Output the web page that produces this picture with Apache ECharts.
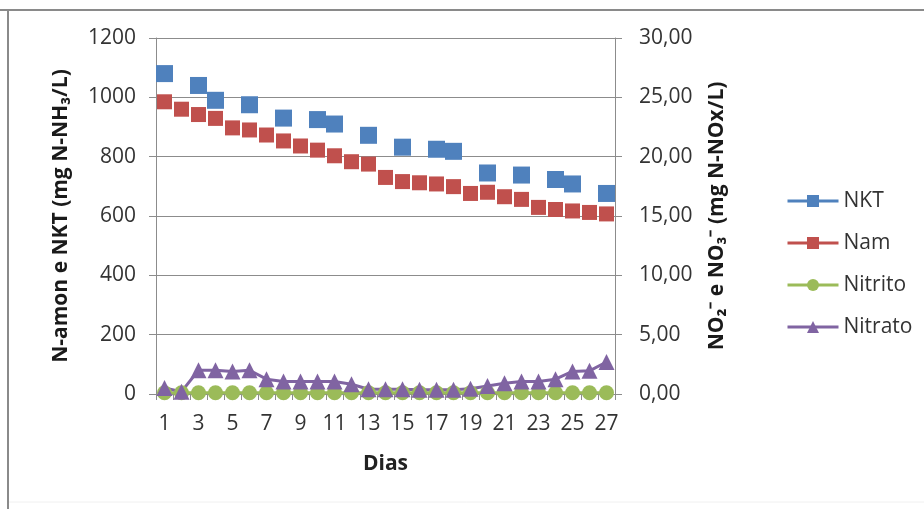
<!DOCTYPE html>
<html>
<head>
<meta charset="utf-8">
<script src="https://cdn.jsdelivr.net/npm/echarts@6/dist/echarts.min.js"></script>
<style>html,body{margin:0;padding:0;background:#fff}#c{width:924px;height:509px}</style>
</head>
<body>
<div id="c"></div>
<script>
var days = ['1','2','3','4','5','6','7','8','9','10','11','12','13','14','15','16','17','18','19','20','21','22','23','24','25','26','27'];
var leftTicks = [0,200,400,600,800,1000,1200];
var rightTicks = [0,5,10,15,20,25,30];
var nkt = [1080,null,1040,990,null,975,null,930,null,925,910,null,872,null,832,null,825,818,null,745,null,738,null,723,708,null,676];
var nam = [985,960,942,929,897,890,873,853,836,822,803,783,775,730,716,712,708,699,676,680,665,656,629,622,617,612,607];
var nitrito = [0.1,0.1,0.1,0.1,0.1,0.1,0.1,0.1,0.1,0.1,0.1,0.1,0.1,0.1,0.1,0.1,0.1,0.1,0.1,0.1,0.1,0.1,0.1,0.1,0.1,0.1,0.1];
var nitrato = [0.5,0.2,2.0,2.0,1.9,2.0,1.25,1.05,1.05,1.05,1.05,0.82,0.4,0.4,0.4,0.35,0.35,0.35,0.45,0.67,0.9,1.05,1.05,1.25,1.9,1.95,2.7];

var FONT = 'Open Sans';
var TXT = '#333333';
var GRID = '#8c8c8c';
var C_NKT = '#4F81BD', C_NAM = '#C0504D', C_NITRITO = '#9BBB59', C_NITRATO = '#8064A2';

var chart = echarts.init(document.getElementById('c'));
chart.setOption({
  backgroundColor: '#fff',
  animation: false,
  textStyle: {fontFamily: FONT},
  graphic: [
    {type:'line', shape:{x1:0,y1:10,x2:924,y2:10}, style:{stroke:'#8a8a8a',lineWidth:2}},
    {type:'line', shape:{x1:8,y1:9,x2:8,y2:509}, style:{stroke:'#8a8a8a',lineWidth:2}},
    {type:'line', shape:{x1:9,y1:502,x2:924,y2:502}, style:{stroke:'#f0f0f0',lineWidth:1}}
  ],
  grid: {left:156, right:309, top:38, bottom:115, containLabel:false},
  legend: {
    orient:'vertical', left:781, top:185,
    itemWidth:51, itemHeight:15, itemGap:20,
    textStyle:{fontFamily:FONT, fontSize:21, color:TXT, lineHeight:22},
    data:[
      {name:'NKT', lineStyle:{opacity:1,width:3,color:C_NKT}},
      {name:'Nam', lineStyle:{opacity:1,width:3,color:C_NAM}},
      {name:'Nitrito', lineStyle:{opacity:1,width:3,color:C_NITRITO}},
      {name:'Nitrato', lineStyle:{opacity:1,width:3,color:C_NITRATO}}
    ]
  },
  xAxis: {
    type:'category', data:days, boundaryGap:true,
    name:'Dias', nameLocation:'middle', nameGap:60,
    nameTextStyle:{fontFamily:FONT, fontSize:21, fontWeight:'bold', color:'#222'},
    axisLine:{lineStyle:{color:GRID,width:1}},
    axisTick:{show:true, interval:0, length:6, lineStyle:{color:GRID}},
    axisLabel:{interval:1, margin:20, fontFamily:FONT, fontSize:21, color:TXT}
  },
  yAxis: [
    {
      type:'value', min:leftTicks[0], max:leftTicks[leftTicks.length-1], interval:200, position:'left',
      name:'N-amon e NKT (mg N-NH\u2083/L)', nameLocation:'middle', nameGap:84,
      nameTextStyle:{fontFamily:FONT, fontSize:21, fontWeight:'bold', color:'#1a1a1a'},
      axisLine:{show:true, lineStyle:{color:GRID}},
      axisTick:{show:true, length:7, lineStyle:{color:GRID}},
      axisLabel:{margin:20, fontFamily:FONT, fontSize:21, color:TXT,
        formatter:function(v){return String(v);}},
      splitLine:{show:true, lineStyle:{color:GRID,width:1}}
    },
    {
      type:'value', min:rightTicks[0], max:rightTicks[rightTicks.length-1], interval:5, position:'right',
      name:'NO\u2082\u207B e NO\u2083\u207B (mg N-NOx/L)', nameLocation:'middle', nameGap:92,
      nameTextStyle:{fontFamily:FONT, fontSize:21, fontWeight:'bold', color:'#1a1a1a'},
      axisLine:{show:true, lineStyle:{color:GRID}},
      axisTick:{show:true, length:7, lineStyle:{color:GRID}},
      axisLabel:{margin:24, fontFamily:FONT, fontSize:21, color:TXT,
        formatter:function(v){return v.toFixed(2).replace('.',',');}},
      splitLine:{show:false}
    }
  ],
  series: [
    {name:'NKT', type:'line', yAxisIndex:0, data:nkt, symbol:'rect', symbolSize:17, showAllSymbol:true,
      itemStyle:{color:C_NKT}, lineStyle:{opacity:0}, connectNulls:false},
    {name:'Nam', type:'line', yAxisIndex:0, data:nam, symbol:'rect', symbolSize:15, showAllSymbol:true,
      itemStyle:{color:C_NAM}, lineStyle:{opacity:0}},
    {name:'Nitrito', type:'line', yAxisIndex:1, data:nitrito, symbol:'circle', symbolSize:15, showAllSymbol:true,
      itemStyle:{color:C_NITRITO}, lineStyle:{width:3,color:C_NITRITO}},
    {name:'Nitrato', type:'line', yAxisIndex:1, data:nitrato, symbol:'triangle', symbolSize:16, showAllSymbol:true,
      itemStyle:{color:C_NITRATO}, lineStyle:{width:3,color:C_NITRATO}}
  ]
});
</script>
</body>
</html>
